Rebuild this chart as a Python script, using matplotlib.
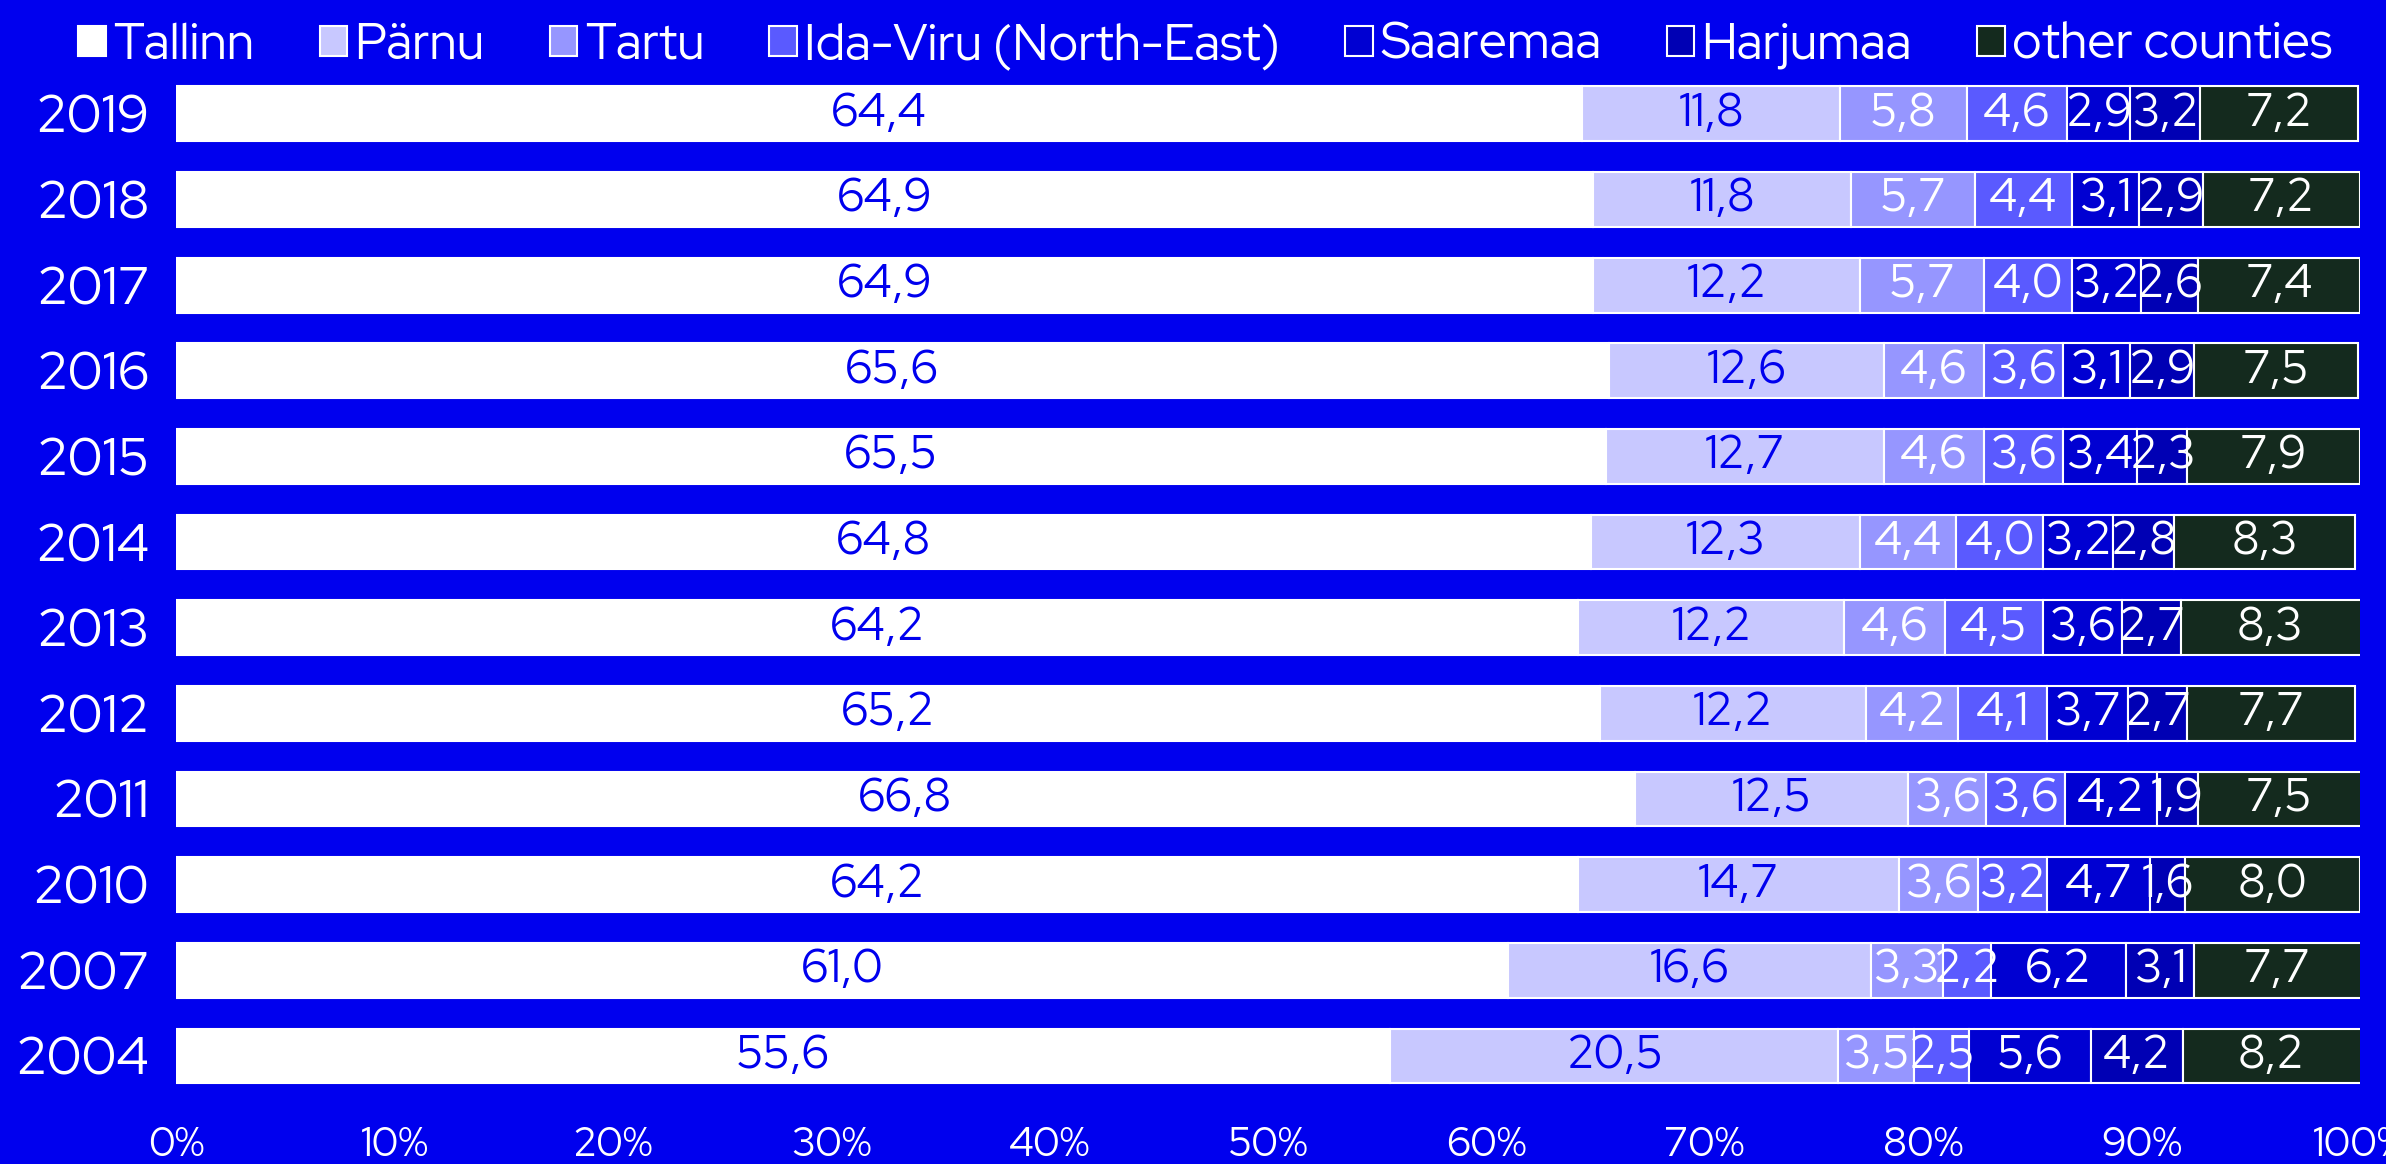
import matplotlib.pyplot as plt
from matplotlib import font_manager

years = ['2019', '2018', '2017', '2016', '2015', '2014', '2013', '2012', '2011', '2010', '2007', '2004']
counties = ['Tallinn', 'Pärnu', 'Tartu', 'Ida-Viru (North-East)', 'Saaremaa', 'Harjumaa', 'other counties']

tallinn = [64.4, 64.9, 64.9, 65.6, 65.5, 64.8, 64.2, 65.2, 66.8, 64.2, 61.0, 55.6]
parnu = [11.8, 11.8, 12.2, 12.6, 12.7, 12.3, 12.2, 12.2, 12.5, 14.7, 16.6, 20.5]
tartu = [5.8, 5.7, 5.7, 4.6, 4.6, 4.4, 4.6, 4.2, 3.6, 3.6, 3.3, 3.5]
idaviru = [4.6, 4.4, 4.0, 3.6, 3.6, 4.0, 4.5, 4.1, 3.6, 3.2, 2.2, 2.5]
saaremaa = [2.9, 3.1, 3.2, 3.1, 3.4, 3.2, 3.6, 3.7, 4.2, 4.7, 6.2, 5.6]
harjumaa = [3.2, 2.9, 2.6, 2.9, 2.3, 2.8, 2.7, 2.7, 1.9, 1.6, 3.1, 4.2]
other = [7.2, 7.2, 7.4, 7.5, 7.9, 8.3, 8.3, 7.7, 7.5, 8.0, 7.7, 8.2]

series = [tallinn, parnu, tartu, idaviru, saaremaa, harjumaa, other]
colors = ['#ffffff', '#c8c8ff', '#9696ff', '#5a5aff', '#0000d2', '#0000b4', '#142a1e']
text_colors = ['#0000ee', '#0000ee', 'white', 'white', 'white', 'white', 'white']

bg = '#0000ee'
names = set(f.name for f in font_manager.fontManager.ttflist)


def pick(cands):
    for c in cands:
        if c in names:
            return c
    return 'DejaVu Sans'


font = pick(['Red Hat Display', 'Montserrat', 'Lato'])
plt.rcParams['font.family'] = font

fig = plt.figure(figsize=(23.86, 11.64), dpi=100, facecolor=bg)
ax = fig.add_axes([0.0738, 0.056, 0.9152, 0.883])
ax.set_facecolor(bg)

ypos = list(range(len(years)))
left = [0.0] * len(years)
for vals, name, col, tcol in zip(series, counties, colors, text_colors):
    bars = ax.barh(ypos, vals, left=left, height=0.64, color=col,
                   edgecolor='white', linewidth=1.5, label=name)
    labels = [('%.1f' % v).replace('.', ',') for v in vals]
    ax.bar_label(bars, labels=labels, label_type='center', color=tcol, fontsize=33)
    left = [l + v for l, v in zip(left, vals)]

ax.set_ylim(len(years) - 0.5, -0.5)
ax.set_xlim(0, 100)
ax.set_yticks(ypos)
ax.set_yticklabels(years, fontsize=38, color='white')
ax.set_xticks(range(0, 101, 10))
ax.set_xticklabels(['%d%%' % t for t in range(0, 101, 10)], fontsize=29, color='white')
ax.tick_params(length=0)
ax.tick_params(axis='x', pad=20)
ax.tick_params(axis='y', pad=19)
for s in ax.spines.values():
    s.set_visible(False)

leg = fig.legend(loc='upper left', bbox_to_anchor=(0.014, 1.02), ncol=7,
                 frameon=False, handlelength=0.55, handleheight=0.55,
                 handletextpad=0.15, columnspacing=1.3,
                 prop={'size': 36})
for t in leg.get_texts():
    t.set_color('white')

fig.savefig('out.png', dpi=100, facecolor=bg)
